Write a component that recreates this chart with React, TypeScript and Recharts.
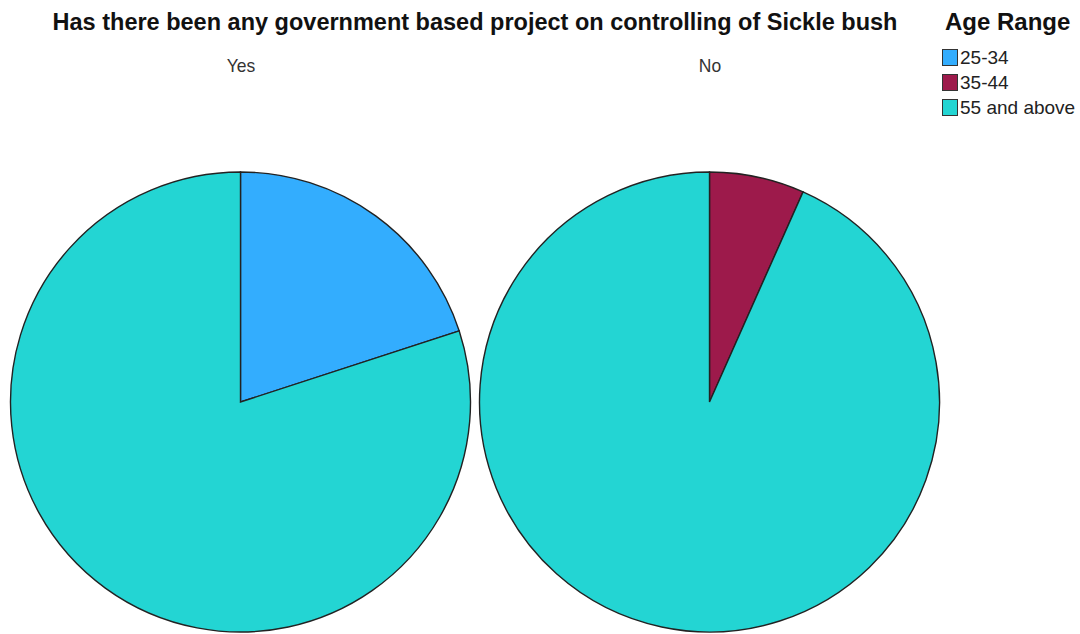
import { Cell, Pie, PieChart } from "recharts";

const AGE_RANGES = ["25-34", "35-44", "55 and above"];
const COLORS = ["#33adfe", "#9d1a4b", "#23d5d3"];
const YES_COUNTS = [1, 0, 4];
const NO_COUNTS = [0, 1, 14];
const PANELS = ["Yes", "No"];

const TITLE =
  "Has there been any government based project on controlling of Sickle bush";

function toSlices(counts: number[]) {
  return counts
    .map((value, i) => ({ name: AGE_RANGES[i], value, color: COLORS[i] }))
    .filter((d) => d.value > 0);
}

const FONT = "'Liberation Sans', Arial, sans-serif";

export default function App() {
  const yesData = toSlices(YES_COUNTS);
  const noData = toSlices(NO_COUNTS);
  const centers = [240.5, 709.5];

  return (
    <div
      style={{
        position: "absolute",
        left: 0,
        top: 0,
        width: 1080,
        height: 634,
        background: "#fff",
        fontFamily: FONT,
        overflow: "hidden",
      }}
    >
      <PieChart width={1080} height={634} margin={{ top: 0, right: 0, bottom: 0, left: 0 }}>
        {[yesData, noData].map((data, p) => (
          <Pie
            key={PANELS[p]}
            data={data}
            dataKey="value"
            nameKey="name"
            cx={centers[p]}
            cy={402}
            outerRadius={230}
            startAngle={90}
            endAngle={-270}
            stroke="#222"
            strokeWidth={1.4}
            isAnimationActive={false}
          >
            {data.map((d) => (
              <Cell key={d.name} fill={d.color} />
            ))}
          </Pie>
        ))}
      </PieChart>

      <div
        style={{
          position: "absolute",
          left: 0,
          width: 950,
          top: 7,
          textAlign: "center",
          fontSize: 23.5,
          fontWeight: "bold",
          color: "#111",
          lineHeight: "30px",
          whiteSpace: "nowrap",
        }}
      >
        {TITLE}
      </div>

      {PANELS.map((label, p) => (
        <div
          key={label}
          style={{
            position: "absolute",
            left: centers[p] - 60,
            width: 120,
            top: 54,
            textAlign: "center",
            fontSize: 19,
            color: "#333",
            lineHeight: "24px",
            transform: "scaleX(0.92)",
          }}
        >
          {label}
        </div>
      ))}

      <div style={{ position: "absolute", left: 940, top: 7 }}>
        <div
          style={{
            fontSize: 24,
            fontWeight: "bold",
            color: "#111",
            lineHeight: "30px",
            marginLeft: 5,
            whiteSpace: "nowrap",
          }}
        >
          Age Range
        </div>
        <div style={{ marginTop: 8 }}>
          {AGE_RANGES.map((name, i) => (
            <div
              key={name}
              style={{ display: "flex", alignItems: "center", height: 25 }}
            >
              <div
                style={{
                  width: 16,
                  height: 17,
                  background: COLORS[i],
                  border: "1px solid #333",
                  marginLeft: 2,
                  marginRight: 2,
                  boxSizing: "border-box",
                }}
              />
              <span
                style={{
                  fontSize: 19,
                  color: "#222",
                  whiteSpace: "nowrap",
                  display: "inline-block",
                }}
              >
                {name}
              </span>
            </div>
          ))}
        </div>
      </div>
    </div>
  );
}
